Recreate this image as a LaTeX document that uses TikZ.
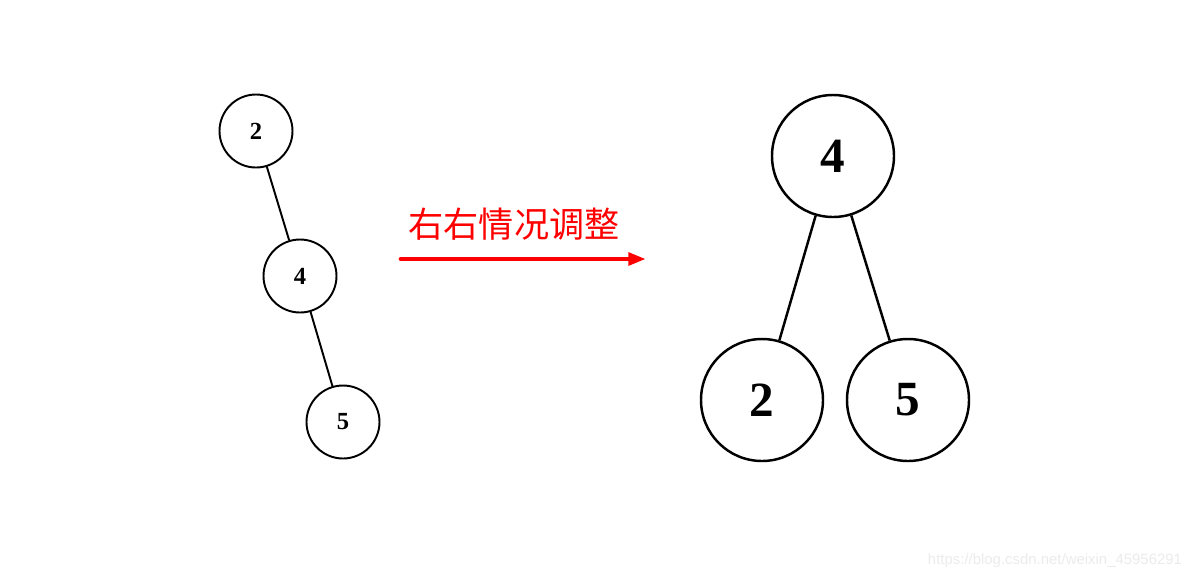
\documentclass[tikz,border=0pt]{standalone}
\usepackage{fontspec}
\setmainfont{Liberation Serif}
\newfontfamily\cjkfont{Noto Sans CJK SC}
\newfontfamily\markfont{Liberation Sans}
\usepackage{tikz}
\usetikzlibrary{arrows.meta}
\tikzset{
small/.style={circle,draw,line width=1.1pt,minimum size=73\unitpx,inner sep=0pt,font=\bfseries\fontsize{14}{14}\selectfont},
big/.style={circle,draw,line width=1.4pt,minimum size=122\unitpx,inner sep=0pt,font=\bfseries\fontsize{28}{28}\selectfont},
edge/.style={line width=1.1pt},
bigedge/.style={line width=1.4pt}
}
\newlength{\unitpx}
\setlength{\unitpx}{0.02cm}
\begin{document}
\begin{tikzpicture}[x=0.02cm,y=-0.02cm]
\useasboundingbox (0,0) rectangle (1198,579);
% before
\node[small] (l2) at (256,131) {2};
\node[small] (l4) at (300,276) {4};
\node[small] (l5) at (343,422) {5};
\draw[edge] (l2) -- (l4);
\draw[edge] (l4) -- (l5);
% arrow
\coordinate (from) at (401,259);
\coordinate (to) at (646,259);
\draw[red,line width=2.8pt,line cap=round,-{Triangle[length=10pt,width=7pt]}] (from) -- (to);
\node[red,font=\cjkfont\fontsize{20}{20}\selectfont] (lbl) at (514,224) {右右情况调整};
% after
\node[big] (r4) at (833,156) {4};
\node[big] (r2) at (762,400) {2};
\node[big] (r5) at (908,400) {5};
\draw[bigedge] (r4) -- (r2);
\draw[bigedge] (r4) -- (r5);
\node[black!8,font=\markfont\fontsize{8.5}{8.5}\selectfont] (wm) at (1055,561) {https://blog.csdn.net/weixin\_45956291};
\end{tikzpicture}
\end{document}
